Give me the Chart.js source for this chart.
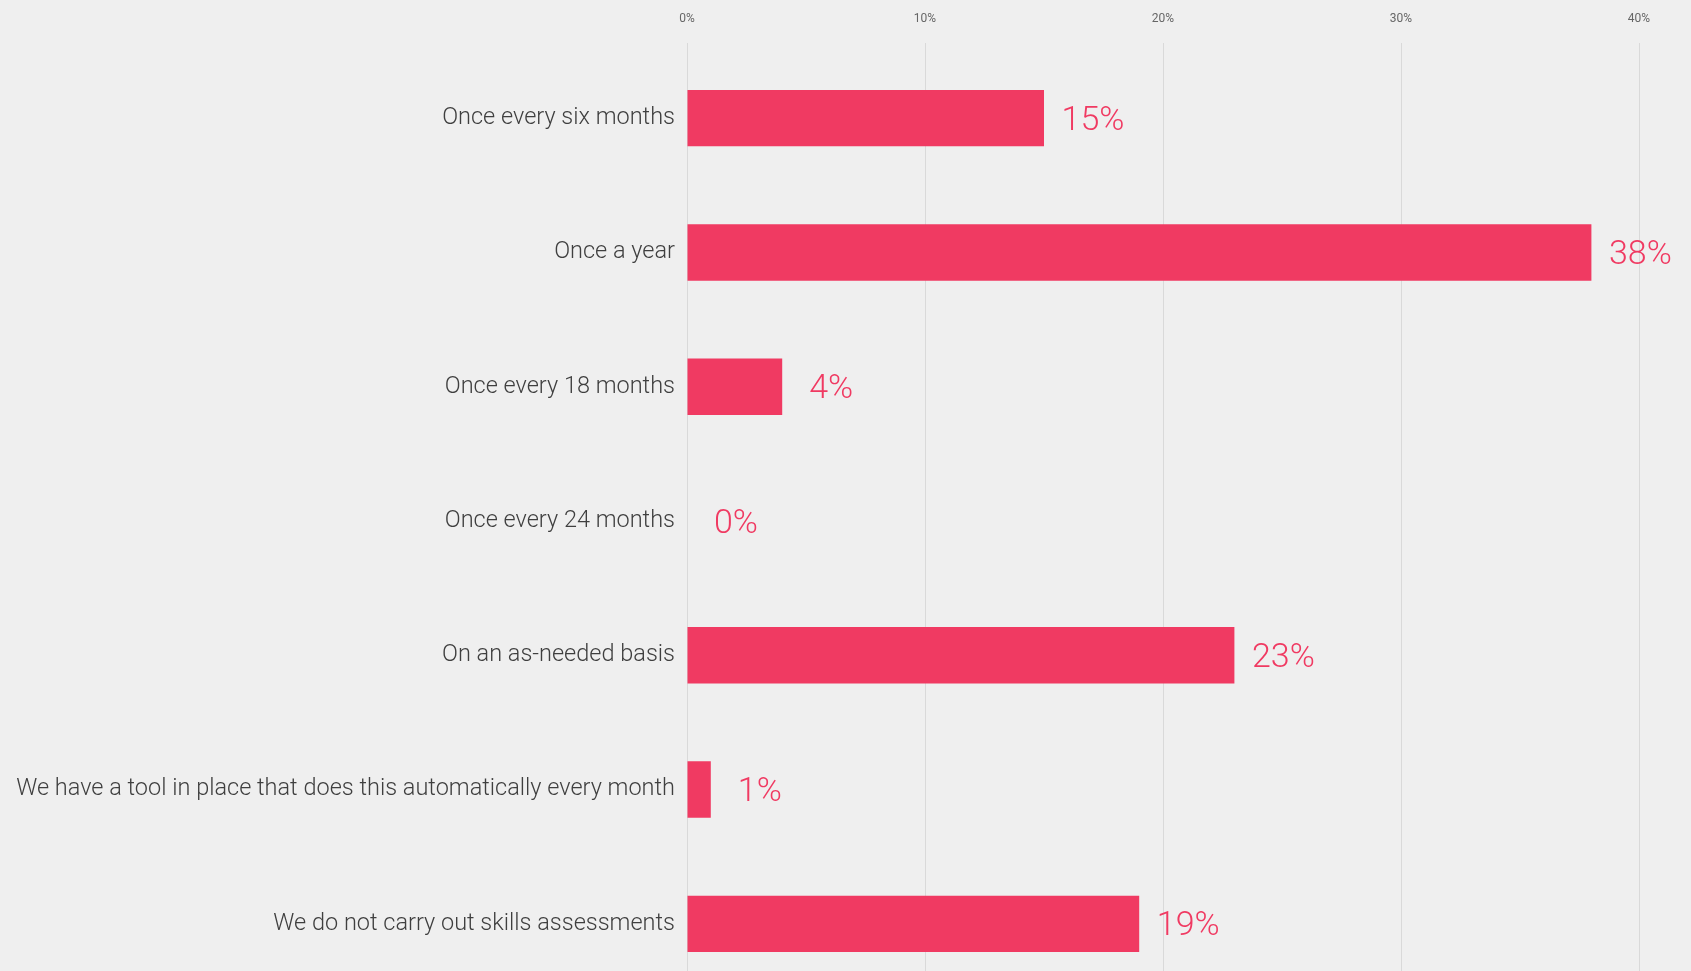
<!DOCTYPE html>
<html>
<head>
<meta charset="utf-8">
<script src="https://cdn.jsdelivr.net/npm/chart.js@4/dist/chart.umd.min.js"></script>
<style>
  html, body { margin: 0; padding: 0; background: #efefef; overflow: hidden; }
  canvas { display: block; }
</style>
</head>
<body>
<canvas id="chart" width="1691" height="991"></canvas>
<script>
const categories = [
  'Once every six months',
  'Once a year',
  'Once every 18 months',
  'Once every 24 months',
  'On an as-needed basis',
  'We have a tool in place that does this automatically every month',
  'We do not carry out skills assessments'
];
const values = [15, 38, 4, 0, 23, 1, 19];
const xTicks = [0, 10, 20, 30, 40];

const barColor = '#f03a62';
const fontFamily = 'Roboto, "Liberation Sans", sans-serif';

// value labels to the right of each bar
const valueLabels = {
  id: 'valueLabels',
  afterDatasetsDraw(chart) {
    const ctx = chart.ctx;
    const meta = chart.getDatasetMeta(0);
    ctx.save();
    ctx.font = '300 34px ' + fontFamily;
    ctx.fillStyle = barColor;
    ctx.textAlign = 'center';
    ctx.textBaseline = 'middle';
    meta.data.forEach((bar, i) => {
      ctx.fillText(values[i] + '%', bar.x + 49, bar.y + 3);
    });
    ctx.restore();
  }
};

new Chart(document.getElementById('chart'), {
  type: 'bar',
  data: {
    labels: categories,
    datasets: [{
      data: values,
      backgroundColor: barColor,
      borderWidth: 0,
      categoryPercentage: 1,
      barPercentage: 0.42
    }]
  },
  options: {
    indexAxis: 'y',
    responsive: false,
    animation: false,
    layout: { padding: { top: 0, right: 52, bottom: 0, left: 0 } },
    plugins: {
      legend: { display: false },
      tooltip: { enabled: false }
    },
    scales: {
      x: {
        position: 'top',
        min: 0,
        max: 40,
        afterBuildTicks: (scale) => { scale.ticks = xTicks.map(v => ({ value: v })); },
        afterFit: (scale) => { scale.height = 51; },
        ticks: {
          callback: (v) => v + '%',
          color: '#666',
          font: { family: fontFamily, size: 12 },
          padding: 17
        },
        grid: { color: '#d9d9d9', lineWidth: 1, tickLength: 8 },
        border: { display: false }
      },
      y: {
        afterFit: (scale) => {
          scale.width = 687;
          // the last row runs off the bottom edge, as in the original
          scale.paddingTop = 0;
          scale.paddingBottom = 0;
        },
        ticks: {
          color: '#3f3f3f',
          font: { family: fontFamily, size: 23.5, weight: '300' },
          padding: 4
        },
        grid: { display: false },
        border: { display: false }
      }
    }
  },
  plugins: [valueLabels]
});
</script>
</body>
</html>
